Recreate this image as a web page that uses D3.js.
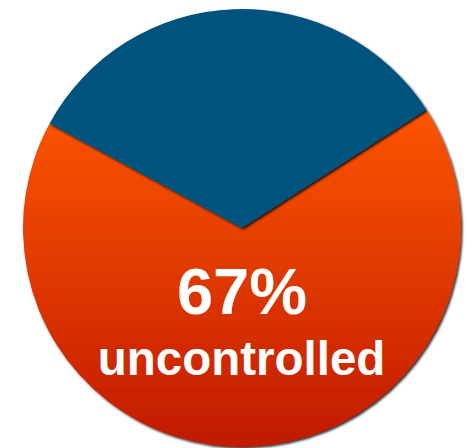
<!DOCTYPE html>
<html>
<head>
<meta charset="utf-8">
<script src="https://cdn.jsdelivr.net/npm/d3@7"></script>
<style>
  body { margin: 0; background: #fff; }
  svg { display: block; }
</style>
</head>
<body>
<script>
// slice data
var labels = ["controlled", "uncontrolled"];
var shares = [33, 67];
var colours = ["#02527c", "url(#orangeFade)"];
var bigText = "67%";
var smallText = "uncontrolled";

var width = 466, height = 448;
var cx = 242, cy = 228, radius = 219;

var svg = d3.select("body").append("svg")
	.attr("width", width)
	.attr("height", height);

var defs = svg.append("defs");

// orange slice goes from bright top to deep red bottom
// (user space of the translated group, so centred on 0)
var grad = defs.append("linearGradient")
	.attr("id", "orangeFade")
	.attr("gradientUnits", "userSpaceOnUse")
	.attr("x1", 0).attr("y1", -radius)
	.attr("x2", 0).attr("y2", radius);
grad.append("stop").attr("offset", "0%").attr("stop-color", "#ff5c00");
grad.append("stop").attr("offset", "25%").attr("stop-color", "#fb5300");
grad.append("stop").attr("offset", "55%").attr("stop-color", "#e33d00");
grad.append("stop").attr("offset", "100%").attr("stop-color", "#c01a00");

// small dark drop shadow on the lower right rim
var shadow = defs.append("filter")
	.attr("id", "rimShadow")
	.attr("x", "-10%").attr("y", "-10%")
	.attr("width", "120%").attr("height", "120%");
shadow.append("feDropShadow")
	.attr("dx", 1.5).attr("dy", 1.5)
	.attr("stdDeviation", 1.2)
	.attr("flood-color", "#000")
	.attr("flood-opacity", 0.85);

// blue wedge starts a bit left of 12 o'clock
var startAngle = -61.5 * Math.PI / 180;
var pie = d3.pie()
	.sort(null)
	.startAngle(startAngle)
	.endAngle(startAngle + 2 * Math.PI);
var arc = d3.arc().innerRadius(0).outerRadius(radius);

var g = svg.append("g")
	.attr("transform", "translate(" + cx + "," + cy + ")");

// orange first so blue's shadow falls on it
var arcs = pie(shares);
g.selectAll("path.slice")
	.data([arcs[1], arcs[0]])
	.enter().append("path")
	.attr("class", "slice")
	.attr("d", arc)
	.attr("fill", function (d) { return colours[d.index]; })
	.attr("filter", "url(#rimShadow)")
	.append("title").text(function (d) { return labels[d.index] + ": " + shares[d.index] + "%"; });

// labels
svg.append("text")
	.attr("x", 242).attr("y", 314)
	.attr("text-anchor", "middle")
	.attr("font-family", "'Liberation Sans', Arial, sans-serif")
	.attr("font-weight", "bold")
	.attr("font-size", 65)
	.attr("fill", "#fff")
	.text(bigText);

svg.append("text")
	.attr("x", 241.5).attr("y", 375)
	.attr("text-anchor", "middle")
	.attr("font-family", "'Liberation Sans', Arial, sans-serif")
	.attr("font-weight", "bold")
	.attr("font-size", 47.5)
	.attr("fill", "#fff")
	.text(smallText);
</script>
</body>
</html>
